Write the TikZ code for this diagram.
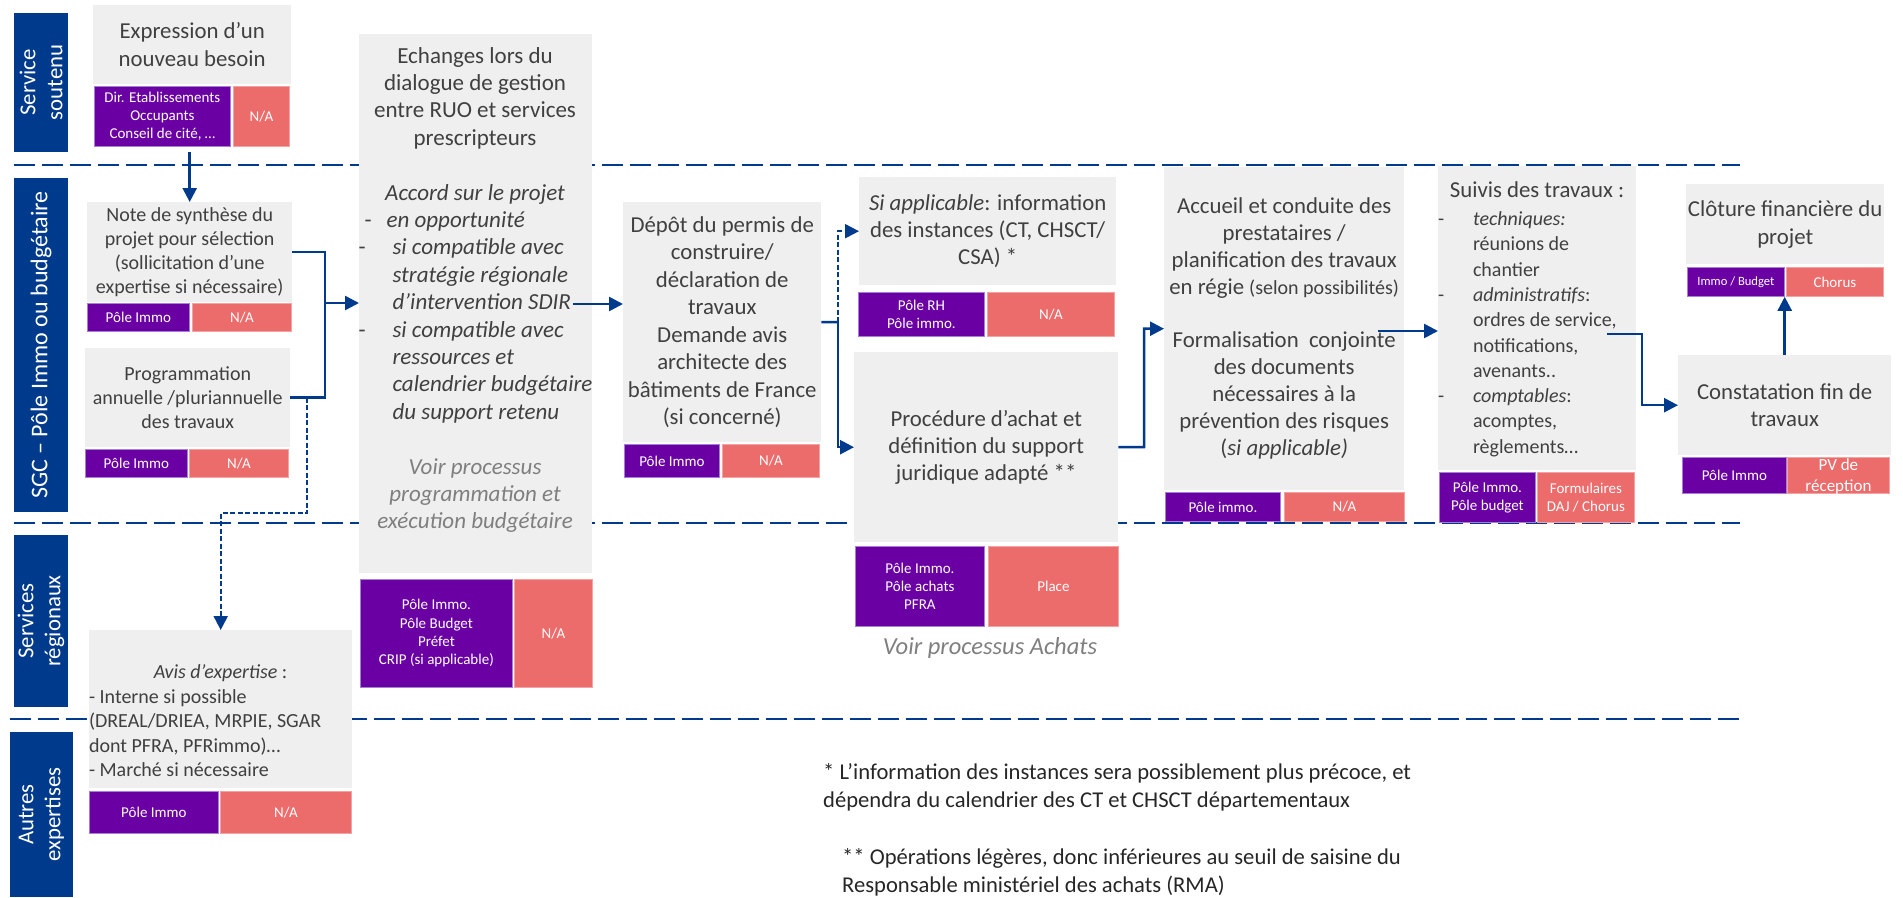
\documentclass[tikz,border=0pt]{standalone}
\usepackage{fontspec}
\setmainfont{Carlito}
\usetikzlibrary{arrows.meta}
\setlength{\parindent}{0pt}

\definecolor{marine}{HTML}{003A8C}
\definecolor{violetbox}{HTML}{6A00A4}
\definecolor{lavande}{HTML}{A57FD6}
\definecolor{saumon}{HTML}{EC6B6B}
\definecolor{roseclair}{HTML}{F3A3A3}
\definecolor{grisfond}{HTML}{EFEFEF}
\definecolor{gristexte}{HTML}{404040}
\definecolor{grisclair}{HTML}{7F7F7F}
\definecolor{noirnote}{HTML}{262626}

\tikzset{
  etape/.style={fill=grisfond, text=gristexte, align=center, inner sep=0pt, anchor=north west,
    font=\fontsize{22.8}{27.5}\selectfont},
  petit/.style={font=\fontsize{20}{24.2}\selectfont},
  texte/.style={text=gristexte, align=left, inner sep=0pt},
  acteur/.style={fill=violetbox, draw=lavande, line width=0.8pt, text=white, align=center,
    inner sep=0pt, anchor=north west, font=\fontsize{15}{18.3}\selectfont},
  outil/.style={acteur, fill=saumon, draw=roseclair},
  couloir/.style={fill=marine, text=white, rotate=90, align=center, inner sep=0pt,
    font=\fontsize{22.8}{27}\selectfont},
  separation/.style={marine, line width=2.7pt, dash pattern=on 21pt off 7pt},
  lien/.style={marine, line width=2.5pt},
  fleche/.style={lien, -{Triangle[length=14pt,width=14pt]}},
  pointille/.style={line width=2pt, dash pattern=on 5pt off 2.5pt},
  renvoi/.style={text=grisclair, inner sep=0pt, font=\fontsize{24.5}{29}\selectfont\itshape},
  remarque/.style={text=noirnote, align=left, inner sep=0pt, anchor=west,
    font=\fontsize{22.6}{28}\selectfont}
}

\begin{document}
\begin{tikzpicture}[x=1pt,y=-1pt]
\useasboundingbox (0,0) rectangle (1903,897);

% separations des couloirs
\draw[separation] (14,165) -- (1740,165);
\draw[separation] (14,523) -- (1740,523);
\draw[separation] (10,719) -- (1740,719);

% couloirs
\node[couloir, minimum width=139pt, minimum height=54pt] (soutenu) at (41,82.5) {Service\\soutenu};
\node[couloir, minimum width=334pt, minimum height=54pt, font=\fontsize{24}{28}\selectfont] (sgc) at (41,345) {SGC – Pôle Immo ou budgétaire};
\node[couloir, minimum width=172pt, minimum height=54pt] (regionaux) at (41,621) {Services\\régionaux};
\node[couloir, minimum width=165pt, minimum height=63pt] (autres) at (41.5,814.5) {Autres\\expertises};

% besoin
\node[etape, minimum width=198pt, minimum height=79pt] (besoin) at (93,5) {Expression d’un\\nouveau besoin};
\node[acteur, minimum width=136pt, minimum height=60pt] (besoin-act) at (94,86) {Dir. Etablissements\\Occupants\\Conseil de cité, …};
\node[outil, minimum width=56pt, minimum height=60pt] (besoin-outil) at (233,86) {N/A};

% note de synthese
\node[etape, petit, minimum width=205pt, minimum height=100pt] (note) at (87,202) {Note de synthèse du\\projet pour sélection\\(sollicitation d’une\\expertise si nécessaire)};
\node[acteur, minimum width=102pt, minimum height=28pt] (note-act) at (87,303) {Pôle Immo};
\node[outil, minimum width=99pt, minimum height=28pt] (note-outil) at (192,303) {N/A};

% programmation
\node[etape, petit, minimum width=205pt, minimum height=99pt] (prog) at (85,348) {Programmation\\annuelle /pluriannuelle\\des travaux};
\node[acteur, minimum width=102pt, minimum height=28pt] (prog-act) at (85,449) {Pôle Immo};
\node[outil, minimum width=99pt, minimum height=28pt] (prog-outil) at (189,449) {N/A};

% avis d'expertise
\node[etape, minimum width=263pt, minimum height=158pt] (avis) at (89,630) {};
\node[texte, font=\fontsize{20}{24.5}\selectfont] (avis-txt) at (220.5,721) {\makebox[263pt]{\textit{Avis d’expertise} :}\\- Interne si possible\\(DREAL/DRIEA, MRPIE, SGAR\\dont PFRA, PFRimmo)…\\- Marché si nécessaire};
\node[acteur, minimum width=129pt, minimum height=42pt] (avis-act) at (89,791) {Pôle Immo};
\node[outil, minimum width=131pt, minimum height=42pt] (avis-outil) at (220,791) {N/A};

% dialogue de gestion
\node[etape, minimum width=233pt, minimum height=539pt] (echanges) at (359,34) {};
\node[texte, font=\fontsize{23}{27.4}\selectfont] (echanges-txt) at (475.5,290) {%
\makebox[233pt]{Echanges lors du}\\
\makebox[233pt]{dialogue de gestion}\\
\makebox[233pt]{entre RUO et services}\\
\makebox[233pt]{prescripteurs}\\[27.4pt]
\makebox[233pt]{\textit{Accord sur le projet}}\\
\hspace*{6pt}\makebox[22pt][l]{-}\textit{en opportunité}\\
\makebox[34pt][l]{-}\textit{si compatible avec}\\
\hspace*{34pt}\textit{stratégie régionale}\\
\hspace*{34pt}\textit{d’intervention SDIR}\\
\makebox[34pt][l]{-}\textit{si compatible avec}\\
\hspace*{34pt}\textit{ressources et}\\
\hspace*{34pt}\textit{calendrier budgétaire}\\
\hspace*{34pt}\textit{du support retenu}\\[27.4pt]
\makebox[233pt]{\color{grisclair}\textit{Voir processus}}\\
\makebox[233pt]{\color{grisclair}\textit{programmation et}}\\
\makebox[233pt]{\color{grisclair}\textit{exécution budgétaire}}};
\node[acteur, minimum width=152pt, minimum height=108pt] (echanges-act) at (360,579) {Pôle Immo.\\Pôle Budget\\Préfet\\CRIP (si applicable)};
\node[outil, minimum width=78pt, minimum height=108pt] (echanges-outil) at (514,579) {N/A};

% permis de construire
\node[etape, minimum width=198pt, minimum height=240pt] (depot) at (623,202) {Dépôt du permis de\\construire/\\déclaration de\\travaux\\Demande avis\\architecte des\\bâtiments de France\\(si concerné)};
\node[acteur, minimum width=95pt, minimum height=33pt] (depot-act) at (624,444) {Pôle Immo};
\node[outil, minimum width=97pt, minimum height=33pt] (depot-outil) at (722,444) {N/A};

% instances
\node[etape, font=\fontsize{22.8}{27}\selectfont, minimum width=257pt, minimum height=108pt] (instances) at (859,177) {\textit{Si applicable}: information\\des instances (CT, CHSCT/\\CSA) *};
\node[acteur, minimum width=126pt, minimum height=44pt] (instances-act) at (858,292) {Pôle RH\\Pôle immo.};
\node[outil, minimum width=127pt, minimum height=44pt] (instances-outil) at (987,292) {N/A};

% procedure d'achat
\node[etape, font=\fontsize{22.8}{27}\selectfont, minimum width=264pt, minimum height=190pt] (achat) at (854,352) {Procédure d’achat et\\définition du support\\juridique adapté **};
\node[acteur, minimum width=129pt, minimum height=80pt] (achat-act) at (855,546) {Pôle Immo.\\Pôle achats\\PFRA};
\node[outil, minimum width=130pt, minimum height=80pt] (achat-outil) at (988,546) {Place};
\node[renvoi] (achat-renvoi) at (990,648) {Voir processus Achats};

% accueil des prestataires
\node[etape, font=\fontsize{22.8}{27}\selectfont, minimum width=240pt, minimum height=323pt] (accueil) at (1164,167) {Accueil et conduite des\\prestataires /\\planification des travaux\\en régie {\fontsize{20}{27}\selectfont(selon possibilités)}\\[26pt]Formalisation~ conjointe\\des documents\\nécessaires à la\\prévention des risques\\(\textit{si applicable)}};
\node[acteur, minimum width=115pt, minimum height=29pt] (accueil-act) at (1165,492) {Pôle immo.};
\node[outil, minimum width=120pt, minimum height=29pt] (accueil-outil) at (1284,492) {N/A};

% suivi des travaux
\node[etape, minimum width=198pt, minimum height=304pt] (suivis) at (1438,166) {};
\node[texte, font=\fontsize{20}{25.3}\selectfont] (suivis-txt) at (1537,319) {%
\makebox[198pt]{\fontsize{22.8}{25.3}\selectfont Suivis des travaux :}\\[3pt]
\makebox[35pt][l]{-}\textit{techniques:}\\
\hspace*{35pt}réunions de\\
\hspace*{35pt}chantier\\
\makebox[35pt][l]{-}\textit{administratifs}:\\
\hspace*{35pt}ordres de service,\\
\hspace*{35pt}notifications,\\
\hspace*{35pt}avenants..\\
\makebox[35pt][l]{-}\textit{comptables}:\\
\hspace*{35pt}acomptes,\\
\hspace*{35pt}règlements…};
\node[acteur, minimum width=96pt, minimum height=50pt] (suivis-act) at (1439,472) {Pôle Immo.\\Pôle budget};
\node[outil, minimum width=97pt, minimum height=50pt] (suivis-outil) at (1537,472) {Formulaires\\DAJ / Chorus};

% cloture financiere
\node[etape, font=\fontsize{22.8}{28}\selectfont, minimum width=198pt, minimum height=80pt] (cloture) at (1686,184) {Clôture financière du\\projet};
\node[acteur, font=\fontsize{12.6}{15}\selectfont, minimum width=97pt, minimum height=29pt] (cloture-act) at (1687,267) {Immo / Budget};
\node[outil, minimum width=97pt, minimum height=29pt] (cloture-outil) at (1786,267) {Chorus};

% constatation fin de travaux
\node[etape, minimum width=213pt, minimum height=100pt] (constat) at (1678,355) {Constatation fin de\\travaux};
\node[acteur, minimum width=104pt, minimum height=36pt] (constat-act) at (1682,457) {Pôle Immo};
\node[outil, minimum width=102pt, minimum height=36pt] (constat-outil) at (1787,457) {};
\begin{scope}
\clip (constat-outil.north west) rectangle (constat-outil.south east);
\node[text=white, align=center, inner sep=0pt, font=\fontsize{17}{21}\selectfont] (constat-pv) at ([yshift=-1pt]constat-outil.center) {PV de\\réception};
\end{scope}

% renvois
\node[remarque] (renvoi-instances) at (823,787.5) {* L’information des instances sera possiblement plus précoce, et\\dépendra du calendrier des CT et CHSCT départementaux};
\node[remarque] (renvoi-achats) at (842,872) {** Opérations légères, donc inférieures au seuil de saisine du\\Responsable ministériel des achats (RMA)};

% liaisons
\coordinate (jonction) at (325,303);
\coordinate (depart-avis) at (307,397.5);
\coordinate (coude-avis) at (307,513);
\coordinate (sdir) at (573,304);
\coordinate (fourche) at (838,322);
\coordinate (coude-accueil) at (1144,447);
\coordinate (formalisation) at (1378,331);
\coordinate (suivis-sortie) at (1607,334);
\coordinate (coude-constat) at (1642,334);

\draw[fleche, shorten <=5pt] (besoin-act.south -| note.north) -- (note.north);
\draw[lien] (note.east) -| (jonction |- prog.east) -- (prog.east);
\draw[fleche] (jonction) -- (jonction -| echanges.west);
\draw[fleche, pointille] (depart-avis) -- (coude-avis) -| (avis.north);
\draw[fleche] (sdir) -- (sdir -| depot.west);
\draw[lien] (depot.east) -- (fourche);
\draw[fleche] (fourche) |- (achat.west);
\draw[fleche, pointille] (fourche) |- (instances.west);
\draw[fleche] (achat.east) -- (coude-accueil) |- (accueil.west);
\draw[fleche] (formalisation) -- (formalisation -| suivis.west);
\draw[fleche] (suivis-sortie) -- (coude-constat) |- (constat.west);
\draw[fleche] (constat.north) -- (constat.north |- cloture-act.south);
\end{tikzpicture}
\end{document}
